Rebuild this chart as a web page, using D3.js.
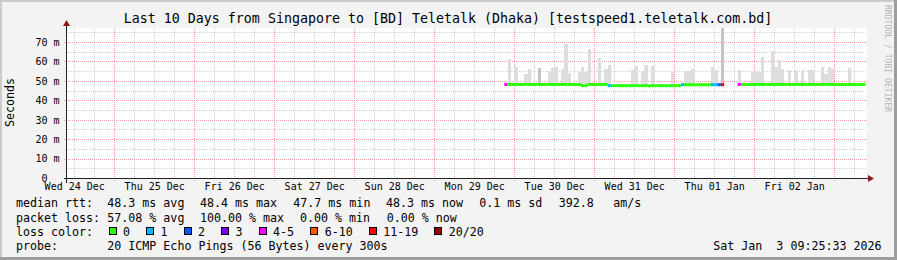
<!DOCTYPE html>
<html><head><meta charset="utf-8">
<script src="https://cdn.jsdelivr.net/npm/d3@7"></script>
<style>
html,body{margin:0;padding:0;background:#f3f3f3;}
svg{display:block;}
text{font-family:"DejaVu Sans Mono",monospace;fill:#000;}
</style></head><body>
<svg id="c" width="897" height="260"></svg>
<script>
// ---------------- data ----------------
const title = "Last 10 Days from Singapore to [BD] Teletalk (Dhaka) [testspeed1.teletalk.com.bd]";
const yLabel = "Seconds";
const yTicks = [0, 10, 20, 30, 40, 50, 60, 70];
const yUnit = "m";
const rangeStart = "2025-12-24T09:50:00Z";
const rangeEnd = "2026-01-03T09:50:00Z";
const nowTime = "2026-01-03T09:25:33Z";
const firstBin = "2025-12-29T21:00:00Z"; // hourly bins from here
// median rtt (ms) per hourly bin
const median = [
  48.4,48.4,48.4,48.4,48.4,48.4,48.4,48.4,48.4,48.4,
  48.4,48.4,48.4,48.4,48.4,48.4,48.4,48.4,48.4,48.4,
  48.4,48.4,48.4,47.8,47.8,48.4,48.4,48.4,48.4,48.4,
  48.4,47.8,47.8,47.8,47.8,47.8,47.8,47.8,47.8,47.8,
  47.8,47.8,47.8,47.7,47.8,47.8,47.8,47.8,47.8,47.8,
  47.8,47.8,47.8,48.3,48.3,48.3,48.3,48.3,48.3,48.3,
  48.3,48.3,48.3,48.3,48.3,48.3,null,null,null,null,
  48.4,48.4,48.4,48.4,48.4,48.4,48.4,48.4,48.4,48.4,
  48.4,48.4,48.4,48.4,48.4,48.4,48.4,48.4,48.4,48.4,
  48.4,48.4,48.4,48.4,48.4,48.4,48.4,48.4,48.4,48.4,
  48.4,48.4,48.4,48.4,48.4,48.4,48.4,48.4,48.4
];
// highest ping of each bin (top of the smoke), null = no visible spread
const smokeMax = [
  null,61.4,null,57.6,null,null,53.6,56.2,null,null,
  56.7,null,null,55.2,56.7,57.2,null,56.2,69.1,54.2,
  null,null,54.8,57.2,54.8,66.5,null,null,61.9,null,
  56.2,58.3,null,null,null,null,null,null,55.7,57.8,
  null,55.2,58.3,null,57.8,null,null,null,null,null,
  54.8,null,null,null,55.2,55.2,56.2,null,null,null,
  null,null,57.4,55.7,null,77.5,null,null,null,null,
  55.7,null,null,null,54.8,54.8,54.8,62.5,null,null,
  65.7,57.4,60.9,56.2,null,55.7,null,55.7,null,55.7,
  null,55.7,55.7,null,null,57.2,53.8,57.2,56.2,null,
  null,null,null,56.7,null,null,null,null,null
];
// top of the denser part of the smoke (several pings spread up there)
const smokeDense = [
  null,null,null,null,null,null,null,null,null,null,
  56.7,null,null,null,null,null,null,null,null,null,
  null,null,null,null,null,null,null,null,null,null,
  null,null,null,null,null,null,null,null,null,null,
  null,null,null,null,null,null,null,null,null,null,
  null,null,null,null,null,null,null,null,null,null,
  null,null,null,null,null,77.5,null,null,null,null,
  null,null,null,null,null,null,null,null,null,null,
  null,null,null,null,null,null,null,null,null,null,
  null,null,null,null,null,null,null,null,null,null,
  null,null,null,null,null,null,null,null,null
];
// lost pings (of 20) per bin
const lostPings = [
  4,0,0,0,0,0,0,0,0,0,
  0,0,0,0,0,0,0,0,0,0,
  0,0,0,0,0,0,0,0,0,0,
  0,1,0,0,0,0,0,0,0,0,
  0,0,0,0,0,0,0,0,0,0,
  0,0,0,1,0,0,0,0,0,0,
  0,0,1,1,2,12,null,null,null,null,
  4,0,0,0,0,0,0,0,0,0,
  0,0,0,0,0,0,0,0,0,0,
  0,0,0,0,0,0,0,0,0,0,
  0,0,0,0,0,0,0,0,0
];
const lossClasses = ["0", "1", "2", "3", "4-5", "6-10", "11-19", "20/20"];
const lossUpper = [0, 1, 2, 3, 5, 10, 19, 20];
const rttLabel = "median rtt:";
const rttItems = ["48.3 ms avg", "48.4 ms max", "47.7 ms min", "48.3 ms now", "0.1 ms sd", "392.8", "am/s"];
const lossLabel = "packet loss:";
const lossItems = ["57.08 % avg", "100.00 % max", "0.00 % min", "0.00 % now"];
const lossColorLabel = "loss color:";
const probeLabel = "probe:";
const probeText = "20 ICMP Echo Pings (56 Bytes) every 300s";
const stamp = "Sat Jan  3 09:25:33 2026";
const credit = "RRDTOOL / TOBI OETIKER";

// ---------------- style / layout ----------------
const lossColors = ["#26ff00", "#00b8ff", "#0059ff", "#7e00ff", "#ff00ff", "#ff5500", "#ff0000", "#a00000"];
const W = 897, H = 260;
const L = 67, R = 867, T = 28, B = 178.5;
const svg = d3.select("#c");

// background + 3D frame
svg.append("rect").attr("width", W).attr("height", H).attr("fill", "#f3f3f3");
svg.append("path").attr("d", `M0,0H${W}V2H2V${H}H0Z`).attr("fill", "#cbcbcb");
svg.append("path").attr("d", `M${W},0V${H}H0V${H-3}H${W-3}V0Z`).attr("fill", "#9d9d9d");

const x = d3.scaleUtc().domain([new Date(rangeStart), new Date(rangeEnd)]).range([L, R]);
const y = d3.scaleLinear().domain([0, d3.max(smokeMax)]).range([B, T]);
const px = v => Math.floor(v) + 0.5;

// canvas
svg.append("rect").attr("x", L).attr("y", T).attr("width", R - L).attr("height", B - T).attr("fill", "#fff");

const grid = svg.append("g").attr("shape-rendering", "crispEdges").attr("stroke-dasharray", "1,1").attr("stroke-width", 1);
// minor grid
const t0 = new Date(rangeStart), t1 = new Date(rangeEnd);
d3.utcHour.every(6).range(t0, t1).filter(d => d.getUTCHours() !== 0).forEach(d => {
  grid.append("line").attr("x1", px(x(d))).attr("x2", px(x(d))).attr("y1", T).attr("y2", B).attr("stroke", "#d2d2d2");
});
d3.range(5, y.domain()[1], 10).forEach(v => {
  grid.append("line").attr("x1", L).attr("x2", R).attr("y1", px(y(v))).attr("y2", px(y(v))).attr("stroke", "#d2d2d2");
});
// major grid
d3.utcDay.range(t0, t1).forEach(d => {
  grid.append("line").attr("x1", px(x(d))).attr("x2", px(x(d))).attr("y1", T).attr("y2", B + 3).attr("stroke", "#f4a0a0");
});
yTicks.filter(v => v > 0).forEach(v => {
  grid.append("line").attr("x1", L - 3).attr("x2", R).attr("y1", px(y(v))).attr("y2", px(y(v))).attr("stroke", "#f4a0a0");
});

// smoke
const binT = i => d3.utcHour.offset(new Date(firstBin), i);
const smoke = svg.append("g").attr("shape-rendering", "crispEdges");
smokeMax.forEach((v, i) => {
  if (v == null || median[i] == null) return;
  const xa = Math.round(x(binT(i))), xb = Math.round(x(binT(i + 1)));
  smoke.append("rect").attr("x", xa).attr("width", xb - xa)
    .attr("y", y(v)).attr("height", y(median[i]) - y(v)).attr("fill", "#dddddd");
  if (smokeDense[i] != null) {
    smoke.append("rect").attr("x", xa).attr("width", xb - xa)
      .attr("y", y(smokeDense[i])).attr("height", y(median[i]) - y(smokeDense[i])).attr("fill", "#c4c4c4");
  }
});

// median line coloured by loss
const lossIdx = n => lossUpper.findIndex(u => n <= u);
const line = d3.line().x(d => x(d[0])).y(d => y(d[1]));
const now = new Date(nowTime);
median.forEach((m, i) => {
  if (m == null) return;
  const a = binT(i); let b = binT(i + 1); if (b > now) b = now;
  svg.append("path").attr("d", line([[a, m], [b, m]]))
    .attr("stroke", lossColors[lossIdx(lostPings[i])]).attr("stroke-width", 3).attr("fill", "none");
});

// axes
const xAxis = d3.axisBottom(x)
  .tickValues(d3.utcDay.range(d3.utcDay.floor(t0), t1).map(d => d3.utcHour.offset(d, 12)).filter(d => d >= t0 && d <= t1))
  .tickFormat(d3.utcFormat("%a %d %b")).tickSize(0).tickPadding(5);
const gx = svg.append("g").attr("transform", `translate(0,${B - 0.5})`).call(xAxis);
gx.select(".domain").remove();
gx.selectAll("text").attr("font-family", "DejaVu Sans Mono").attr("font-size", "10px").attr("fill", "#000");

const yAxis = d3.axisLeft(y).tickValues(yTicks).tickFormat(v => v === 0 ? "0" : v + " " + yUnit).tickSize(0).tickPadding(7);
const gy = svg.append("g").attr("transform", `translate(${L - 0.5},0)`).call(yAxis);
gy.select(".domain").remove();
gy.selectAll("text").attr("font-family", "DejaVu Sans Mono").attr("font-size", "10px").attr("fill", "#000")
  .attr("dy", "0.29em")
  .attr("x", d => d === 0 ? -19 : -7);

// axis lines + arrows
svg.append("line").attr("x1", L - 3).attr("x2", R + 3).attr("y1", B).attr("y2", B).attr("stroke", "#222").attr("shape-rendering", "crispEdges");
svg.append("line").attr("x1", L - 0.5).attr("x2", L - 0.5).attr("y1", B + 4).attr("y2", T - 4).attr("stroke", "#222").attr("shape-rendering", "crispEdges");
svg.append("path").attr("d", `M${R + 1},${B - 3.5}L${R + 7},${B}L${R + 1},${B + 3.5}Z`).attr("fill", "#8b1c1c");
svg.append("path").attr("d", `M${L - 4},${T - 2}L${L - 0.5},${T - 8}L${L + 3},${T - 2}Z`).attr("fill", "#8b1c1c");

// title
svg.append("text").attr("x", 448).attr("y", 23).attr("text-anchor", "middle").attr("font-size", "13.3px").text(title);
// y label
svg.append("text").attr("transform", "translate(14,102.5) rotate(-90)").attr("text-anchor", "middle").attr("font-size", "11.65px").text(yLabel);
// credit
svg.append("text").attr("transform", "translate(884.5,5) rotate(90)").attr("font-size", "8.1px").style("fill", "#b4b4b4").text(credit);

// legend
const fs = "11.65px", cw = 7.02;
const lg = svg.append("g").attr("font-size", fs);
const row = (yb, label, items, xs) => {
  lg.append("text").attr("x", 16).attr("y", yb).text(label);
  items.forEach((t, i) => lg.append("text").attr("x", xs[i]).attr("y", yb).text(t));
};
row(207.3, rttLabel, rttItems, [107.3, 200, 293.3, 386, 479.3, 558.7, 613.3]);
row(221.5, lossLabel, lossItems, [107.3, 200, 300, 386.7]);
lg.append("text").attr("x", 16).attr("y", 235.7).text(lossColorLabel);
let bx = 108.5;
lossClasses.forEach((c, i) => {
  lg.append("rect").attr("x", bx + 0.5).attr("y", 227.5).attr("width", 7).attr("height", 7)
    .attr("fill", lossColors[i]).attr("stroke", "#000").attr("shape-rendering", "crispEdges");
  lg.append("text").attr("x", bx + 14.5).attr("y", 235.7).text(c);
  bx = bx + 14.5 + c.length * cw + 16;
});
lg.append("text").attr("x", 16).attr("y", 250).text(probeLabel);
lg.append("text").attr("x", 107.3).attr("y", 250).text(probeText);
lg.append("text").attr("x", 881.5).attr("y", 250).attr("text-anchor", "end").style("white-space", "pre").text(stamp);
</script>
</body></html>
